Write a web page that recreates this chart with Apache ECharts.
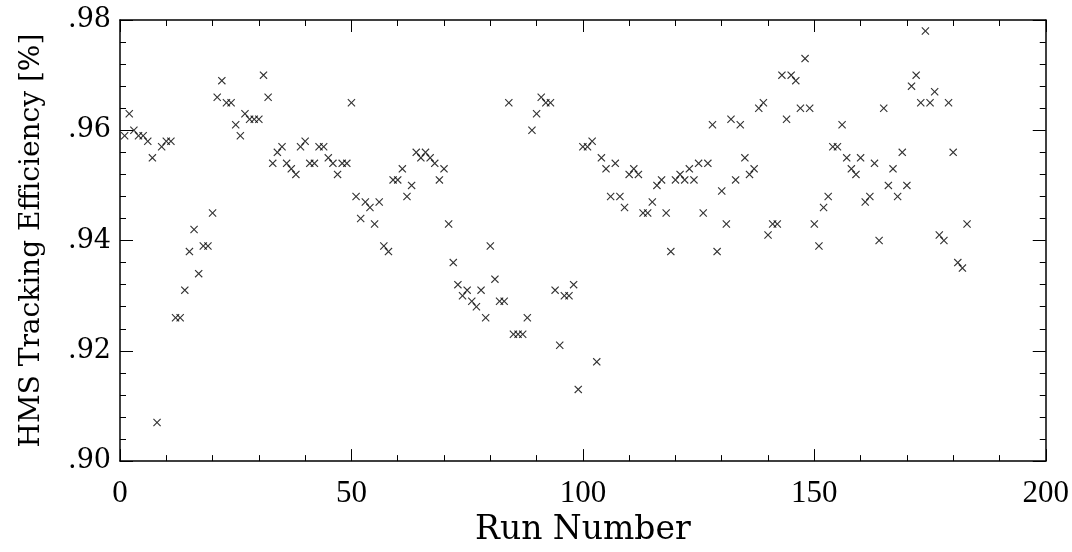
<!DOCTYPE html>
<html>
<head>
<meta charset="utf-8">
<script src="https://cdn.jsdelivr.net/npm/echarts@6/dist/echarts.min.js"></script>
<style>
  html, body { margin: 0; padding: 0; background: #fff; }
  #chart { width: 1072px; height: 552px; }
</style>
</head>
<body>
<div id="chart"></div>
<script>
// run numbers (x) and tracking efficiency (y)
const runNumbers = [
  1, 2, 3, 4, 5, 6, 7, 8, 9, 10, 11, 12, 13, 14, 15, 16, 17, 18, 19, 20,
  21, 22, 23, 24, 25, 26, 27, 28, 29, 30, 31, 32, 33, 34, 35, 36, 37, 38, 39, 40,
  41, 42, 43, 44, 45, 46, 47, 48, 49, 50, 51, 52, 53, 54, 55, 56, 57, 58, 59, 60,
  61, 62, 63, 64, 65, 66, 67, 68, 69, 70, 71, 72, 73, 74, 75, 76, 77, 78, 79, 80,
  81, 82, 83, 84, 85, 86, 87, 88, 89, 90, 91, 92, 93, 94, 95, 96, 97, 98, 99, 100,
  101, 102, 103, 104, 105, 106, 107, 108, 109, 110, 111, 112, 113, 114, 115, 116, 117, 118, 119, 120,
  121, 122, 123, 124, 125, 126, 127, 128, 129, 130, 131, 132, 133, 134, 135, 136, 137, 138, 139, 140,
  141, 142, 143, 144, 145, 146, 147, 148, 149, 150, 151, 152, 153, 154, 155, 156, 157, 158, 159, 160,
  161, 162, 163, 164, 165, 166, 167, 168, 169, 170, 171, 172, 173, 174, 175, 176, 177, 178, 179, 180,
  181, 182, 183
];
const efficiency = [
  .959, .963, .960, .959, .959, .958, .955, .907, .957, .958, .958, .926, .926, .931, .938, .942, .934, .939, .939, .945,
  .966, .969, .965, .965, .961, .959, .963, .962, .962, .962, .970, .966, .954, .956, .957, .954, .953, .952, .957, .958,
  .954, .954, .957, .957, .955, .954, .952, .954, .954, .965, .948, .944, .947, .946, .943, .947, .939, .938, .951, .951,
  .953, .948, .950, .956, .955, .956, .955, .954, .951, .953, .943, .936, .932, .930, .931, .929, .928, .931, .926, .939,
  .933, .929, .929, .965, .923, .923, .923, .926, .960, .963, .966, .965, .965, .931, .921, .930, .930, .932, .913, .957,
  .957, .958, .918, .955, .953, .948, .954, .948, .946, .952, .953, .952, .945, .945, .947, .950, .951, .945, .938, .951,
  .952, .951, .953, .951, .954, .945, .954, .961, .938, .949, .943, .962, .951, .961, .955, .952, .953, .964, .965, .941,
  .943, .943, .970, .962, .970, .969, .964, .973, .964, .943, .939, .946, .948, .957, .957, .961, .955, .953, .952, .955,
  .947, .948, .954, .940, .964, .950, .953, .948, .956, .950, .968, .970, .965, .978, .965, .967, .941, .940, .965, .956,
  .936, .935, .943
];

const xTickValues = [0, 50, 100, 150, 200];
const xTickLabels = ['0', '50', '100', '150', '200'];
const yTickValues = [0.90, 0.92, 0.94, 0.96, 0.98];
const yTickLabels = ['.90', '.92', '.94', '.96', '.98'];

function pickLabel(values, labels) {
  return v => {
    const i = values.findIndex(t => Math.abs(t - v) < 1e-6);
    return i >= 0 ? labels[i] : '';
  };
}

// cruz fina rellena (los path symbols se rellenan, no se trazan)
const crossSymbol = 'path://M0,1L1,0L5,4L9,0L10,1L6,5L10,9L9,10L5,6L1,10L0,9L4,5Z';

const chart = echarts.init(document.getElementById('chart'));

const lineStyle = { color: '#000', width: 1.5 };
const baseX = {
  type: 'value', min: 0, max: 200, interval: 50,
  axisLine: { show: true, onZero: false, lineStyle },
  axisTick: { show: true, inside: true, length: 12, lineStyle: { color: '#000', width: 1 } },
  minorTick: { show: true, splitNumber: 5, length: 6, lineStyle: { color: '#000', width: 1 } },
  splitLine: { show: false }
};
const baseY = {
  type: 'value', min: 0.90, max: 0.98, interval: 0.02,
  axisLine: { show: true, onZero: false, lineStyle },
  axisTick: { show: true, inside: true, length: 13, lineStyle: { color: '#000', width: 1 } },
  minorTick: { show: true, splitNumber: 5, length: 6, lineStyle: { color: '#000', width: 1 } },
  splitLine: { show: false }
};

chart.setOption({
  backgroundColor: '#fff',
  animation: false,
  grid: { left: 120, top: 20, right: 26, bottom: 67 },
  xAxis: [
    Object.assign({}, baseX, {
      position: 'bottom',
      name: 'Run Number',
      nameLocation: 'middle',
      nameGap: 41,
      nameTextStyle: { fontFamily: 'DejaVu Serif', fontSize: 33, color: '#000' },
      axisLabel: {
        margin: 17, color: '#000', fontFamily: 'Liberation Serif', fontSize: 31,
        formatter: pickLabel(xTickValues, xTickLabels)
      }
    }),
    Object.assign({}, baseX, { position: 'top', axisLabel: { show: false } })
  ],
  yAxis: [
    Object.assign({}, baseY, {
      position: 'left',
      name: 'HMS Tracking Efficiency [%]',
      nameLocation: 'middle',
      nameGap: 74,
      nameTextStyle: { fontFamily: 'DejaVu Serif', fontSize: 28, color: '#000' },
      axisLabel: {
        margin: 9, color: '#000', fontFamily: 'DejaVu Serif', fontSize: 27,
        formatter: pickLabel(yTickValues, yTickLabels)
      }
    }),
    Object.assign({}, baseY, { position: 'right', axisLabel: { show: false } })
  ],
  series: [{
    type: 'scatter',
    xAxisIndex: 0,
    yAxisIndex: 0,
    symbol: crossSymbol,
    symbolSize: 8,
    itemStyle: { color: '#000' },
    data: runNumbers.map((r, i) => [r, efficiency[i]])
  }]
});
</script>
</body>
</html>
